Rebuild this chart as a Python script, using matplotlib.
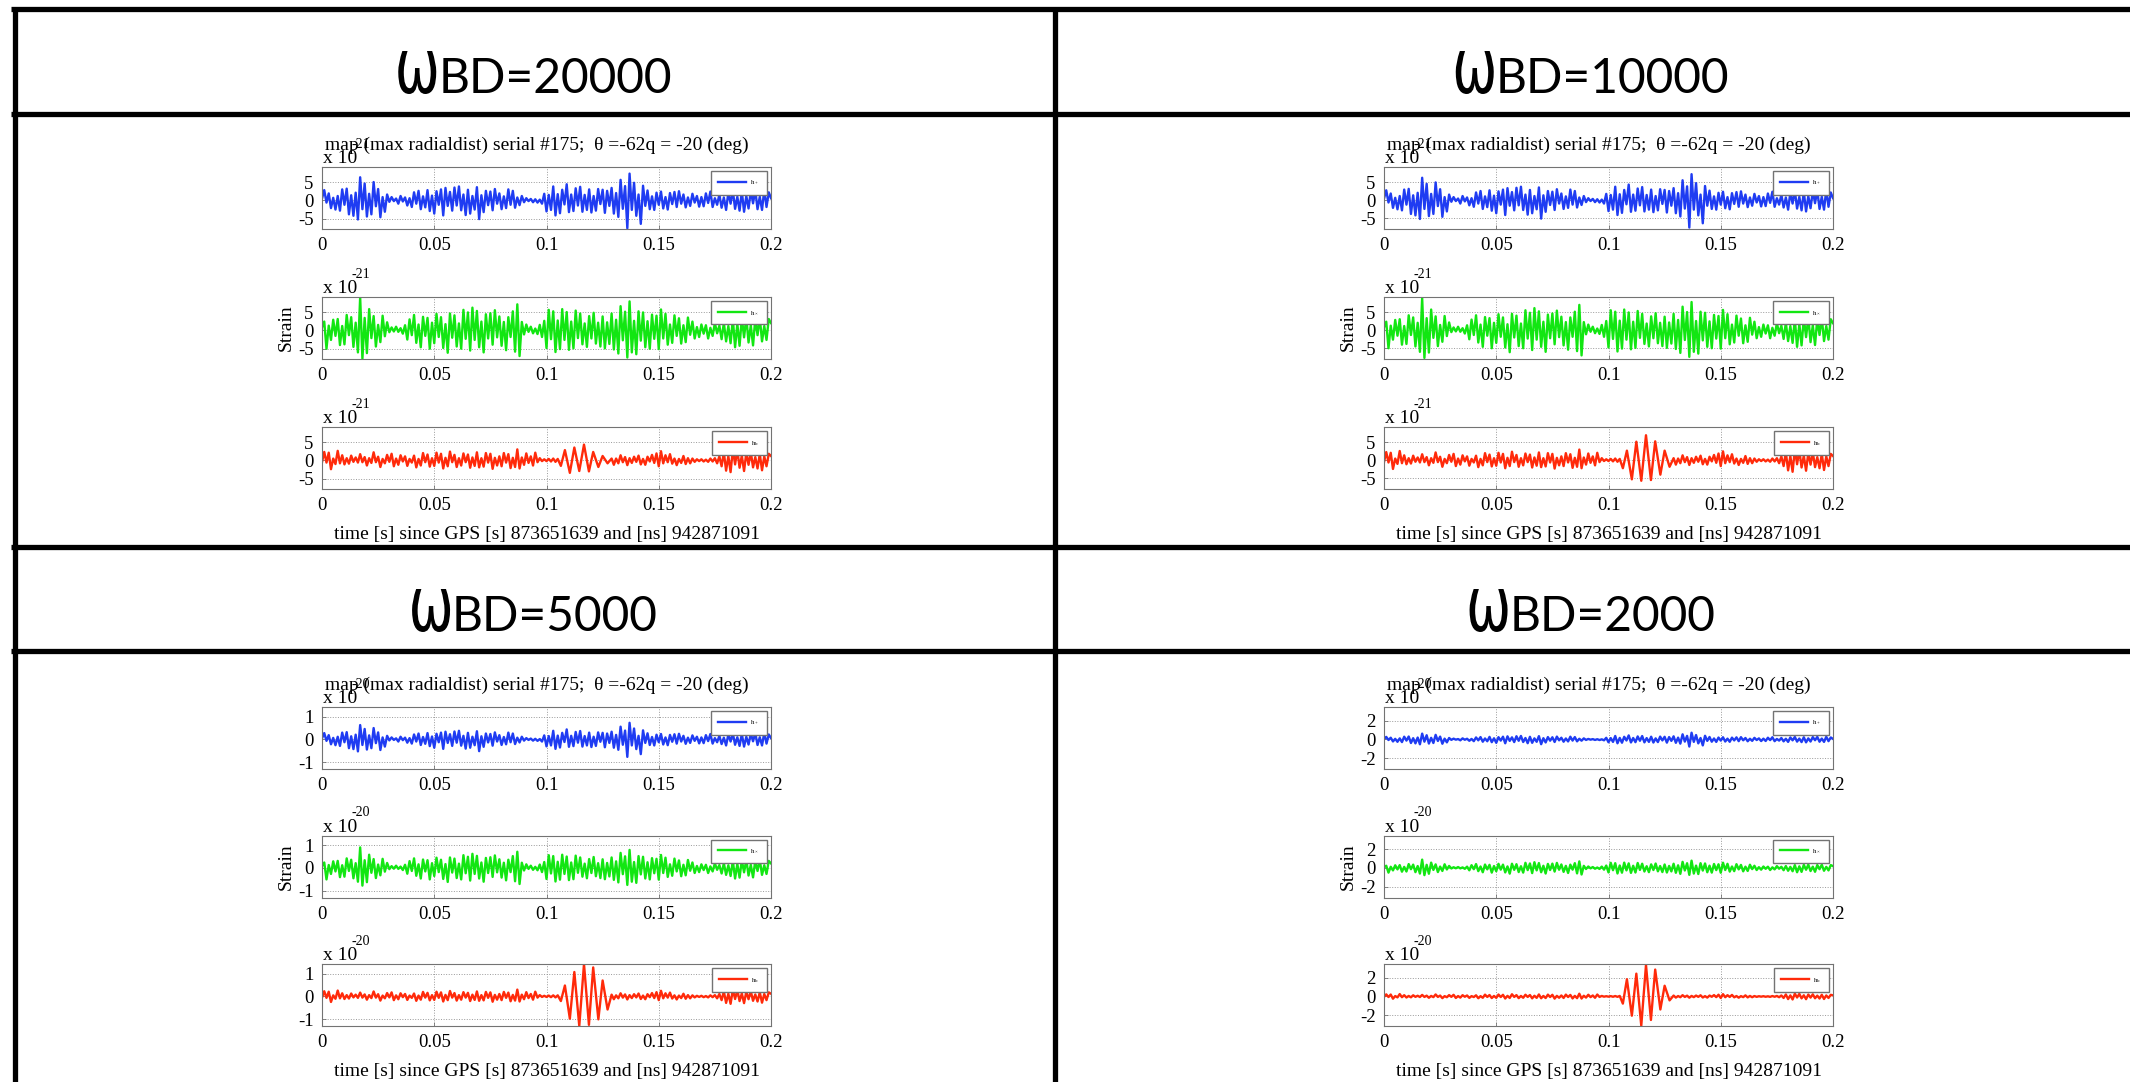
import numpy as np
import matplotlib
matplotlib.use("Agg")
import matplotlib.pyplot as plt
from matplotlib.lines import Line2D
from matplotlib.textpath import TextPath
from matplotlib.patches import PathPatch
from matplotlib.font_manager import FontProperties
from matplotlib.transforms import Affine2D

plt.rcParams["font.family"] = ["Liberation Serif", "DejaVu Serif"]
plt.rcParams["axes.unicode_minus"] = False

# ---- data (strain in units of 1e-21, sampled every 1 ms over 0..0.2 s) ----
time_s = np.linspace(0.0, 0.2, 201)

h_plus = [
    0.5, 2.8, -0.6, 1.9, -2.1, 0.7, -2.5, 1.2, -2.8, 3.0,
    -1.2, 3.2, -3.8, 1.4, -4.2, 2.1, -5.2, 6.3, -2.4, 4.6,
    -4.4, 1.8, -3.8, 5.0, -1.6, 3.1, -4.6, 0.9, -3.1, 1.6,
    -0.4, 0.9, -0.2, 0.5, -0.9, 1.2, -0.3, 0.8, -1.4, 0.6,
    -1.8, 2.2, -0.9, 2.6, -2.4, 1.1, -1.9, 2.8, -2.9, 1.3,
    -3.6, 2.5, -1.2, 3.0, -4.1, 3.4, -1.5, 2.3, -2.8, 3.5,
    -1.4, 3.8, -2.7, 1.6, -4.0, 2.9, -3.6, 1.2, -2.5, 3.6,
    -5.1, 1.4, -3.2, 2.6, -1.3, 2.4, -2.7, 3.1, -0.9, 1.9,
    -2.4, 1.1, -2.1, 3.0, -1.2, 2.6, -2.0, 0.8, -1.3, 1.2,
    -0.5, 0.6, -0.2, 0.4, -0.5, 0.3, -0.6, 0.2, -0.9, 1.8,
    -3.0, 1.5, -2.6, 3.8, -4.1, 1.7, -3.5, 2.9, -1.1, 4.4,
    -3.2, 1.6, -2.9, 3.3, -1.4, 3.7, -3.1, 1.5, -2.6, 3.0,
    -3.3, 1.2, -2.8, 3.1, -1.0, 2.9, -3.4, 2.6, -1.5, 3.4,
    -3.6, 2.0, -4.5, 5.6, -2.3, 3.9, -7.6, 7.3, -2.6, 4.8,
    -4.2, 1.6, -6.4, 4.0, -1.5, 2.7, -2.4, 1.1, -2.6, 2.1,
    -1.2, 2.4, -2.2, 0.9, -2.5, 2.0, -1.0, 2.3, -1.8, 2.5,
    -0.9, 1.6, -1.9, 0.8, -1.5, 1.8, -0.6, 1.2, -1.7, 0.9,
    -1.6, 1.9, -0.7, 2.4, -1.8, 0.6, -1.2, 1.6, -2.0, 0.8,
    -2.6, 2.2, -0.9, 2.7, -2.3, 1.0, -2.8, 2.4, -3.1, 1.2,
    -2.2, 2.6, -0.8, 2.8, -2.4, 1.0, -2.6, 2.9, -1.8, 2.2, 0.6,
]

h_cross = [
    0.8, 2.4, -5.0, 1.3, -2.6, 2.9, -1.5, 3.1, -4.0, 1.2,
    -3.8, 4.2, -1.3, 3.6, -4.5, 2.1, -6.0, 9.0, -7.7, 3.4,
    -6.2, 5.8, -2.1, 3.9, -4.4, 1.5, -3.2, 4.0, -1.6, 2.2,
    -0.5, 0.8, -0.3, 1.0, -0.4, 0.6, -0.9, 1.4, -2.5, 3.0,
    -1.3, 4.2, -3.4, 1.6, -4.6, 3.7, -1.5, 3.4, -5.0, 2.1,
    -3.5, 4.5, -1.8, 3.6, -4.8, 1.7, -6.1, 4.6, -2.0, 4.1,
    -4.4, 1.9, -5.0, 5.6, -2.3, 4.9, -5.5, 6.2, -2.6, 5.3,
    -4.6, 2.4, -6.0, 4.4, -2.2, 4.7, -3.9, 5.5, -1.9, 3.8,
    -4.2, 2.3, -5.4, 3.6, -1.8, 5.2, -5.8, 7.1, -7.0, 2.3,
    -1.1, 1.6, -0.4, 1.0, -0.8, 0.5, -1.0, 1.5, -1.8, 2.6,
    -4.8, 5.6, -2.4, 5.2, -5.9, 2.7, -5.1, 5.8, -2.6, 5.0,
    -5.3, 2.4, -4.9, 5.4, -2.1, 4.6, -3.8, 1.9, -4.5, 3.9,
    -2.2, 4.8, -3.6, 2.1, -4.4, 3.8, -4.9, 2.2, -3.7, 4.6,
    -5.2, 2.9, -6.3, 6.6, -2.7, 5.1, -7.4, 7.9, -6.0, 2.6,
    -6.5, 5.2, -2.8, 4.9, -4.6, 2.5, -5.0, 4.3, -2.3, 4.0,
    -5.1, 5.7, -2.2, 4.5, -3.9, 1.6, -3.4, 4.1, -1.5, 3.3,
    -3.6, 1.4, -3.2, 3.5, -1.2, 2.4, -2.2, 0.9, -1.8, 1.6,
    -0.9, 1.4, -2.2, 0.7, -1.5, 2.0, -0.8, 1.3, -2.4, 2.1,
    -3.0, 1.2, -3.5, 3.1, -4.6, 1.8, -4.2, 3.4, -1.9, 3.6,
    -3.3, 1.4, -4.1, 3.2, -1.3, 3.5, -3.0, 1.2, -2.6, 3.1, 2.0,
]

h_b_noise = [
    -0.5, 2.3, -0.6, 2.1, -2.4, 0.5, -1.0, 2.6, -0.8, 1.4,
    -1.1, 0.6, -0.9, 1.3, -0.4, 0.8, -0.6, 1.7, -0.5, 0.9,
    -1.4, 0.6, -0.7, 2.2, -0.5, 1.0, -1.8, 0.4, -0.8, 1.5,
    -0.4, 1.8, -1.6, 0.5, -1.2, 1.4, -0.3, 1.1, -1.5, 0.4,
    -0.6, 1.3, -1.9, 0.4, -1.4, 2.0, -0.5, 1.6, -1.7, 0.6,
    -1.5, 2.1, -0.6, 1.8, -2.2, 0.7, -1.6, 2.4, -0.5, 1.5,
    -1.8, 0.6, -1.4, 1.9, -0.5, 1.6, -2.0, 0.8, -1.5, 2.2,
    -1.9, 0.6, -1.7, 2.0, -0.6, 1.8, -2.3, 0.7, -1.4, 1.1,
    -1.6, 2.0, -0.6, 1.7, -2.1, 0.7, -1.8, 3.0, -2.2, 0.8,
    -1.2, 1.9, -0.7, 1.1, -1.4, 2.1, -0.5, 0.6, -0.2, 0.3,
    -0.2, 0.4, -0.3, 0.5, -0.4, 0.3, -0.5, 0.4, -0.3, 0.2,
    -0.3, 0.2, -0.2, 0.3, -0.2, 0.3, -0.2, 0.2, -0.3, 0.2,
    -0.3, 0.2, -0.2, 0.3, -0.3, 0.2, -0.2, 0.3, -0.4, 0.6,
    -1.2, 0.5, -0.8, 1.4, -0.5, 0.9, -1.3, 0.6, -0.7, 1.0,
    -0.4, 1.3, -1.1, 0.4, -1.2, 1.0, -0.3, 1.5, -0.7, 1.9,
    -1.6, 2.5, -0.8, 1.4, -0.5, 1.7, -0.9, 0.5, -1.3, 0.4,
    -0.7, 1.2, -1.0, 0.6, -0.8, 0.5, -0.4, 0.3, -0.2, 0.3,
    -0.3, 0.2, -0.4, 0.5, -0.3, 0.6, -0.8, 1.1, -1.6, 2.2,
    -2.8, 1.2, -3.2, 3.0, -1.1, 2.8, -2.0, 1.3, -2.9, 2.1,
    -1.2, 2.3, -1.9, 0.9, -2.2, 1.8, -2.7, 1.1, -1.6, 1.8, 1.2,
]

# breathing-mode burst extrema, same times for every panel
burst_t = [0.1050, 0.1064, 0.1082, 0.1104, 0.1124, 0.1146, 0.1167,
           0.1189, 0.1208, 0.1231, 0.1250, 0.1272, 0.1290]
burst_20000 = [0.4, -1.5, 2.8, -3.4, 3.5, -2.9, 4.3, -3.0, 2.3, -1.8, 1.2, -0.8, 0.5]
burst_10000 = [0.4, -2.2, 2.7, -5.3, 5.2, -5.7, 7.0, -5.5, 5.3, -4.0, 2.7, -1.8, 0.6]
burst_5000 = [0.5, -2.0, 4.8, -9.7, 10.7, -12.9, 14.2, -12.4, 12.7, -10.0, 7.0, -5.7, 0.8]
burst_2000 = [0.6, -7.7, 18.6, -20.7, 24.6, -31.5, 34.0, -25.3, 29.0, -14.0, 11.6, -4.2, 1.0]

omega_bd = [20000, 10000, 5000, 2000]
bursts = [burst_20000, burst_10000, burst_5000, burst_2000]
exponents = [-21, -21, -20, -20]
y_limits = [(-7.8, 9.1), (-8.0, 9.3), (-1.29, 1.42), (-3.18, 3.5)]
y_ticks = [[-5, 0, 5], [-5, 0, 5], [-1, 0, 1], [-2, 0, 2]]
x_ticks = [0, 0.05, 0.1, 0.15, 0.2]
x_tick_labels = ["0", "0.05", "0.1", "0.15", "0.2"]

title_text = "map (max radialdist) serial #175;  θ =-62q = -20 (deg)"
xlabel_text = "time [s] since GPS [s] 873651639 and [ns] 942871091"
legend_labels = [r"$\mathregular{h_+}$", r"$\mathregular{h_\times}$", r"$\mathregular{h_b}$"]
colors = ["#1f3cf2", "#12e612", "#ff2a0a"]

# ---- layout (pixels, y measured from top) ----
W, H = 2130, 1082
fig = plt.figure(figsize=(W / 100, H / 100), dpi=100)


def fx(x):
    return x / W


def fy(y):
    return 1 - y / H


PT = 0.72  # pixels -> points at 100 dpi

cell_x = [(15, 1055), (1055, 2130), (15, 1055), (1055, 2130)]
cell_top = [9, 9, 547, 547]
axes_x = [(322, 771), (1384, 1833), (322, 771), (1384, 1833)]
row_tops = [(167, 297, 427), (167, 297, 427), (707, 835.5, 964), (707, 835.5, 964)]
AX_H = 62

# table lines
for y in [9, 114, 547, 651]:
    fig.add_artist(Line2D([fx(11), fx(W)], [fy(y), fy(y)], color="black", lw=3.8,
                          solid_capstyle="butt"))
for x in [15, 1055]:
    fig.add_artist(Line2D([fx(x), fx(x)], [fy(7), fy(H)], color="black", lw=3.8,
                          solid_capstyle="butt"))

# header text: stretched omega glyph + "BD=...."
renderer = fig.canvas.get_renderer()
omega_path = TextPath((0, 0), "ω", size=100, prop=FontProperties(family="DejaVu Sans"))
ext = omega_path.get_extents()
OMEGA_W, OMEGA_H = 38, 43
for i in range(4):
    base = cell_top[i] + 84
    cx = (cell_x[i][0] + cell_x[i][1]) / 2
    txt = fig.text(0, fy(base), f"BD={omega_bd[i]}", fontsize=34.5, family="Lato",
                   va="baseline", ha="left")
    w = txt.get_window_extent(renderer).width
    x0 = cx - (OMEGA_W + 2 + w) / 2
    tr = (Affine2D().translate(-ext.x0, -ext.y0)
          .scale(OMEGA_W / ext.width, OMEGA_H / ext.height)
          .translate(x0, H - base - 1))
    fig.add_artist(PathPatch(omega_path, transform=tr, facecolor="black", lw=0))
    txt.set_x(fx(x0 + OMEGA_W + 2))

# the three strain panels in each cell
for i in range(4):
    scale = 10.0 ** (exponents[i] + 21)
    keep = (time_s < burst_t[0]) | (time_s > burst_t[-1])
    t_b = np.concatenate([time_s[keep], burst_t])
    v_b = np.concatenate([np.array(h_b_noise)[keep], bursts[i]])
    order = np.argsort(t_b)
    traces = [(time_s, np.array(h_plus)), (time_s, np.array(h_cross)),
              (t_b[order], v_b[order])]
    x_l, x_r = axes_x[i]
    for j in range(3):
        top = row_tops[i][j]
        ax = fig.add_axes([fx(x_l), fy(top + AX_H), (x_r - x_l) / W, AX_H / H])
        t, v = traces[j]
        ax.plot(t, v / scale, color=colors[j], lw=1.7, label=legend_labels[j])
        ax.set_xlim(0, 0.2)
        ax.set_ylim(*y_limits[i])
        ax.set_xticks(x_ticks)
        ax.set_xticklabels(x_tick_labels)
        ax.set_yticks(y_ticks[i])
        ax.set_yticklabels([str(v) for v in y_ticks[i]])
        ax.grid(True, linestyle=":", color="0.6", linewidth=0.7)
        ax.tick_params(direction="in", length=3, width=0.6, color="0.45",
                       labelsize=13.5, pad=6)
        for s in ax.spines.values():
            s.set_color("0.45")
            s.set_linewidth(0.8)
        ax.legend(loc="upper right", prop={"size": 5}, fancybox=False,
                  edgecolor="0.45", framealpha=1, borderpad=1.1,
                  handlelength=4, handletextpad=0.6, borderaxespad=0.6)

        ax.annotate("x 10", xy=(0, 1), xycoords="axes fraction",
                    xytext=(1 * PT, 4 * PT), textcoords="offset points",
                    ha="left", va="baseline", fontsize=14)
        ax.annotate(str(exponents[i]), xy=(0, 1), xycoords="axes fraction",
                    xytext=(30 * PT, 19 * PT), textcoords="offset points",
                    ha="left", va="baseline", fontsize=10)
        if j == 0:
            ax.annotate(title_text, xy=(0.5, 1), xycoords="axes fraction",
                        xytext=(-10 * PT, 17 * PT), textcoords="offset points",
                        ha="center", va="baseline", fontsize=14)
        if j == 1:
            ax.annotate("Strain", xy=(0, 0.5), xycoords="axes fraction",
                        xytext=(-36 * PT, 0), textcoords="offset points",
                        ha="center", va="center", rotation=90, fontsize=14)
        if j == 2:
            ax.annotate(xlabel_text, xy=(0.5, 0), xycoords="axes fraction",
                        xytext=(0, -50 * PT), textcoords="offset points",
                        ha="center", va="baseline", fontsize=14)

fig.savefig("out.png", dpi=100)
